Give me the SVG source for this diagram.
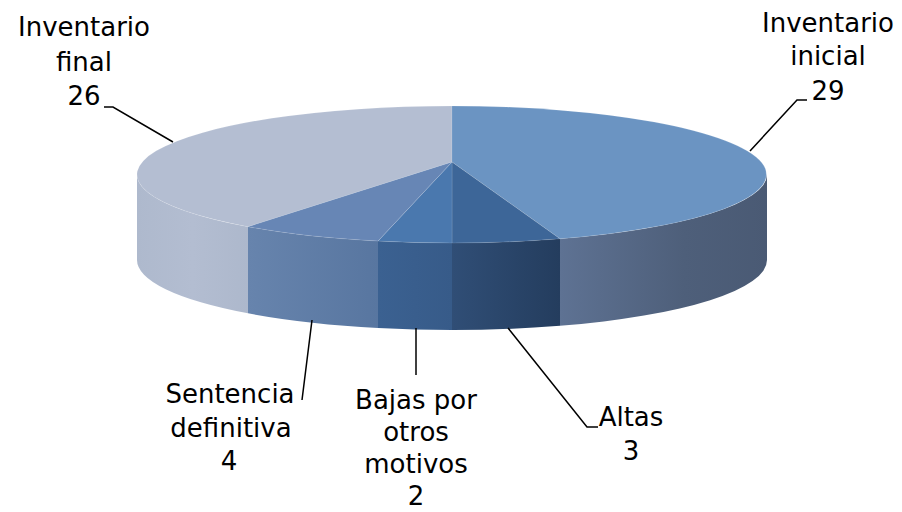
<svg xmlns="http://www.w3.org/2000/svg" width="902" height="512" viewBox="0 0 902 512">
<defs>
<style>
.lbl{font-family:"DejaVu Sans","Liberation Sans",sans-serif;font-size:26px;fill:#000;text-anchor:middle}
.lead{fill:none;stroke:#000;stroke-width:1.5}
.edge{stroke:#ffffff;stroke-opacity:0.15;stroke-width:0.8}
</style>
<linearGradient id="gFinal" x1="137" y1="0" x2="248" y2="0" gradientUnits="userSpaceOnUse">
<stop offset="0" stop-color="#aeb9cd"/><stop offset="0.5" stop-color="#b3bdd1"/><stop offset="1" stop-color="#adb8cc"/>
</linearGradient>
<linearGradient id="gSent" x1="248" y1="0" x2="378" y2="0" gradientUnits="userSpaceOnUse">
<stop offset="0" stop-color="#6784ad"/><stop offset="1" stop-color="#5876a0"/>
</linearGradient>
<linearGradient id="gBajas" x1="378" y1="0" x2="452" y2="0" gradientUnits="userSpaceOnUse">
<stop offset="0" stop-color="#3b6191"/><stop offset="1" stop-color="#375b89"/>
</linearGradient>
<linearGradient id="gAltas" x1="452" y1="0" x2="560" y2="0" gradientUnits="userSpaceOnUse">
<stop offset="0" stop-color="#304e76"/><stop offset="1" stop-color="#243d5e"/>
</linearGradient>
<linearGradient id="gIni" x1="560" y1="0" x2="767" y2="0" gradientUnits="userSpaceOnUse">
<stop offset="0" stop-color="#5e7293"/><stop offset="0.6" stop-color="#4e5f7a"/><stop offset="1" stop-color="#4a5a74"/>
</linearGradient>
</defs>
<rect width="902" height="512" fill="#ffffff"/>

<g id="inventario-final">
<path d="M248 226.7 A315 68.5 0 0 1 137 174.5 L137 259.5 A315 70 0 0 0 248 313.3 Z" fill="url(#gFinal)"/>
<path class="edge" d="M452 162 L248 226.7 A315 68.5 0 0 1 452 106 Z" fill="#b4bed2"/>
<text class="lbl" x="84" y="36">Inventario</text>
<text class="lbl" x="84" y="70.5">final</text>
<text class="lbl" x="84" y="105">26</text>
</g>

<g id="inventario-inicial">
<path d="M767 174.5 A315 68.5 0 0 1 560 238.8 L560 325.8 A315 70 0 0 0 767 260 Z" fill="url(#gIni)"/>
<path class="edge" d="M452 162 L452 106 A315 68.5 0 0 1 560 238.8 Z" fill="#6b94c2"/>
<text class="lbl" x="828" y="32">Inventario</text>
<text class="lbl" x="828" y="65">inicial</text>
<text class="lbl" x="828" y="100">29</text>
</g>

<g id="altas">
<path d="M560 238.8 A315 68.5 0 0 1 452 243 L452 330 A315 70 0 0 0 560 325.8 Z" fill="url(#gAltas)"/>
<path class="edge" d="M452 162 L560 238.8 A315 68.5 0 0 1 452 243 Z" fill="#3d6698"/>
<text class="lbl" x="631" y="426">Altas</text>
<text class="lbl" x="631" y="460">3</text>
</g>

<g id="bajas-por-otros-motivos">
<path d="M452 243 A315 68.5 0 0 1 378 241.1 L378 328 A315 70 0 0 0 452 330 Z" fill="url(#gBajas)"/>
<path class="edge" d="M452 162 L452 243 A315 68.5 0 0 1 378 241.1 Z" fill="#4a78ae"/>
<text class="lbl" x="416" y="409">Bajas por</text>
<text class="lbl" x="416" y="441">otros</text>
<text class="lbl" x="416" y="473">motivos</text>
<text class="lbl" x="416" y="505">2</text>
</g>

<g id="sentencia-definitiva">
<path d="M378 241.1 A315 68.5 0 0 1 248 226.7 L248 313.3 A315 70 0 0 0 378 328 Z" fill="url(#gSent)"/>
<path class="edge" d="M452 162 L378 241.1 A315 68.5 0 0 1 248 226.7 Z" fill="#6786b5"/>
<text class="lbl" x="230" y="403">Sentencia</text>
<text class="lbl" x="231" y="437">definitiva</text>
<text class="lbl" x="229" y="470">4</text>
</g>

<g id="connectors">
<path class="lead" d="M104 107 H113 L173 142"/>
<path class="lead" d="M807 100 H797 L750 151"/>
<path class="lead" d="M312 320 L302 400"/>
<path class="lead" d="M416 328 V375"/>
<path class="lead" d="M508 328 L587 427 H598"/>
</g>
</svg>
